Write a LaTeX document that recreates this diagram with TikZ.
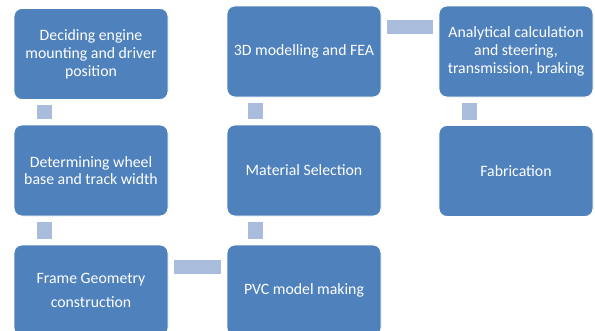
\documentclass[tikz,border=0pt]{standalone}
\usepackage{fontspec}
\setmainfont{Carlito}
\definecolor{boxblue}{HTML}{4F81BD}
\definecolor{connblue}{HTML}{A9BCDB}
\begin{document}
\begin{tikzpicture}[x=1pt,y=-1pt,
  box/.style={draw=white, line width=0.8pt, fill=boxblue, rounded corners=8pt,
    minimum width=154pt, minimum height=91pt, inner sep=0pt, text=white,
    align=center, font=\fontsize{15.8}{17.8}\selectfont},
  vconn/.style={draw=connblue, line width=15pt, line cap=butt, shorten <=5.5pt, shorten >=5.5pt},
  hconn/.style={draw=connblue, line width=14pt, line cap=butt, shorten <=5.5pt, shorten >=5.5pt}]
\useasboundingbox (0,0) rectangle (595,330);
\node[box] (a) at (91,54) {Deciding engine\\mounting and driver\\position};
\node[box] (b) at (91,170.5) {Determining wheel\\base and track width};
\node[box] (c) at (91,290.5) {Frame Geometry\\[7pt]construction};
\node[box] (d) at (304,290.5) {PVC model making};
\node[box] (e) at (304,170.5) {Material Selection};
\node[box] (f) at (304,51.5) {3D modelling and FEA};
\node[box] (g) at (516,51.5) {Analytical calculation\\and steering,\\transmission, braking};
\node[box] (h) at (516,171) {Fabrication};
\draw[vconn] ([xshift=30.5pt]a.south west) -- ([xshift=30.5pt]b.north west);
\draw[vconn] ([xshift=30.5pt]b.south west) -- ([xshift=30.5pt]c.north west);
\draw[hconn] ([yshift=-22pt]c.north east) -- ([yshift=-22pt]d.north west);
\draw[vconn] ([xshift=29pt]d.north west) -- ([xshift=29pt]e.south west);
\draw[vconn] ([xshift=29pt]e.north west) -- ([xshift=29pt]f.south west);
\draw[hconn] ([yshift=-21pt]f.north east) -- ([yshift=-21pt]g.north west);
\draw[vconn] ([xshift=30.5pt]g.south west) -- ([xshift=30.5pt]h.north west);
\end{tikzpicture}
\end{document}
